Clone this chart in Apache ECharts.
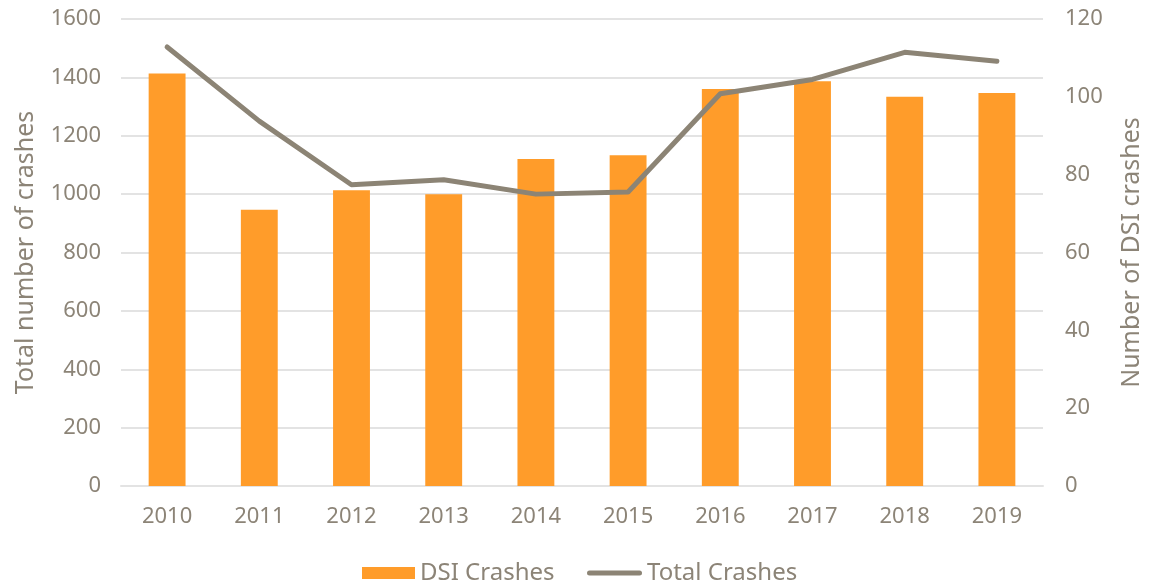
<!DOCTYPE html>
<html>
<head>
<meta charset="utf-8">
<script src="https://cdn.jsdelivr.net/npm/echarts@6/dist/echarts.min.js"></script>
<style>
html,body{margin:0;padding:0;background:#fff;}
#chart{width:1152px;height:582px;}
</style>
</head>
<body>
<div id="chart"></div>
<script>
var years = ['2010','2011','2012','2013','2014','2015','2016','2017','2018','2019'];
var dsiCrashes = [106, 71, 76, 75, 84, 85, 102, 104, 100, 101];
var totalCrashes = [1504, 1250, 1032, 1049, 1000, 1007, 1344, 1393, 1486, 1455];
var leftTicks = {min: 0, max: 1600, interval: 200};
var rightTicks = {min: 0, max: 120, interval: 20};

var textColor = '#8C8477';
var fontFamily = '"Noto Sans", Lato, sans-serif';
var chart = echarts.init(document.getElementById('chart'));
chart.setOption({
  animation: false,
  textStyle: {fontFamily: fontFamily, color: textColor},
  grid: {left: 121, right: 107, top: 19, bottom: 96, containLabel: false},
  legend: [
    {
      top: 556,
      left: 357,
      itemWidth: 53,
      itemHeight: 12,
      textStyle: {fontSize: 24, color: textColor, fontFamily: fontFamily},
      data: [{name: 'DSI Crashes', icon: 'rect'}]
    },
    {
      top: 556,
      left: 582,
      itemWidth: 55,
      itemHeight: 5,
      textStyle: {fontSize: 24, color: textColor, fontFamily: fontFamily},
      data: [{name: 'Total Crashes', icon: 'path://M2.5,0 L52.5,0 A2.5,2.5 0 0 1 52.5,5 L2.5,5 A2.5,2.5 0 0 1 2.5,0 Z', itemStyle: {color: '#8C8475'}}]
    }
  ],
  xAxis: {
    type: 'category',
    data: years,
    axisLine: {lineStyle: {color: '#E3E3E3', width: 2}},
    axisTick: {show: false},
    axisLabel: {fontSize: 22, color: textColor, margin: 20, fontFamily: fontFamily}
  },
  yAxis: [
    {
      type: 'value',
      min: leftTicks.min, max: leftTicks.max, interval: leftTicks.interval,
      name: 'Total number of crashes',
      nameLocation: 'middle',
      nameGap: 83,
      nameTextStyle: {fontSize: 25, color: textColor, fontFamily: fontFamily},
      axisLine: {show: false},
      axisTick: {show: false},
      axisLabel: {fontSize: 22, color: textColor, margin: 20, fontFamily: fontFamily, formatter: function (v) { return String(v); }},
      splitLine: {lineStyle: {color: '#E3E3E3', width: 2}}
    },
    {
      type: 'value',
      min: rightTicks.min, max: rightTicks.max, interval: rightTicks.interval,
      name: 'Number of DSI crashes',
      nameLocation: 'middle',
      nameGap: 76,
      nameTextStyle: {fontSize: 25, color: textColor, fontFamily: fontFamily},
      axisLine: {show: false},
      axisTick: {show: false},
      axisLabel: {fontSize: 22, color: textColor, margin: 22, fontFamily: fontFamily},
      splitLine: {show: false}
    }
  ],
  series: [
    {
      name: 'DSI Crashes',
      type: 'bar',
      yAxisIndex: 1,
      data: dsiCrashes,
      barWidth: '40%',
      itemStyle: {color: '#FF9C2A'}
    },
    {
      name: 'Total Crashes',
      type: 'line',
      yAxisIndex: 0,
      data: totalCrashes,
      symbol: 'none',
      lineStyle: {color: '#8C8475', width: 5, cap: 'round', join: 'round'},
      itemStyle: {color: '#8C8475'}
    }
  ]
});
</script>
</body>
</html>
